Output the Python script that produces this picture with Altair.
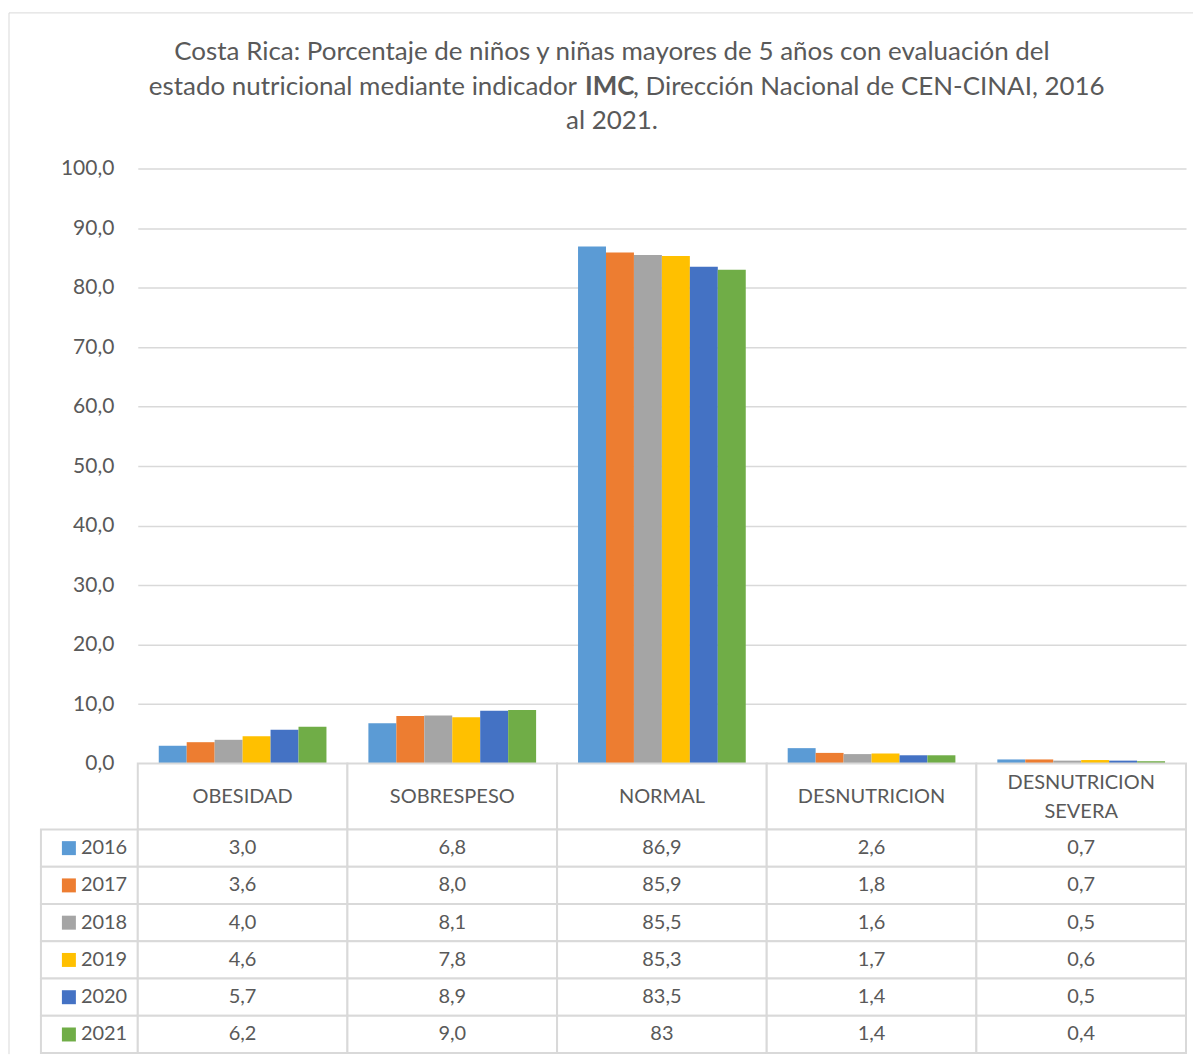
import altair as alt
import pandas as pd

categories = ["OBESIDAD", "SOBRESPESO", "NORMAL", "DESNUTRICION", "DESNUTRICION SEVERA"]
header_labels = ["OBESIDAD", "SOBRESPESO", "NORMAL", "DESNUTRICION", "DESNUTRICION\nSEVERA"]
years = ["2016", "2017", "2018", "2019", "2020", "2021"]
colors = ["#5B9BD5", "#ED7D31", "#A5A5A5", "#FFC000", "#4472C4", "#70AD47"]

v2016 = [3.0, 6.8, 86.9, 2.6, 0.7]
v2017 = [3.6, 8.0, 85.9, 1.8, 0.7]
v2018 = [4.0, 8.1, 85.5, 1.6, 0.5]
v2019 = [4.6, 7.8, 85.3, 1.7, 0.6]
v2020 = [5.7, 8.9, 83.5, 1.4, 0.5]
v2021 = [6.2, 9.0, 83, 1.4, 0.4]
series = [v2016, v2017, v2018, v2019, v2020, v2021]

title_line1 = "Costa Rica: Porcentaje de niños y niñas mayores de 5 años con evaluación del"
title_line2a = "estado nutricional mediante indicador"
title_line2b = "IMC"
title_line2c = ", Dirección Nacional de CEN-CINAI, 2016"
title_line3 = "al 2021."

FONT = "Lato"
TXT = "#595959"
GRID = "#d9d9d9"


def fmt(v):
    if isinstance(v, int):
        return str(v)
    return f"{v:.1f}".replace(".", ",")


rows = []
for y, vals in zip(years, series):
    for c, v in zip(categories, vals):
        rows.append({"category": c, "year": y, "value": float(v), "label": fmt(v)})
df = pd.DataFrame(rows)
header_df = pd.DataFrame({"category": categories, "label": header_labels})
years_df = pd.DataFrame({"year": years})
one = pd.DataFrame({"k": [0]})

W = 1050
H = 596

bars = alt.Chart(df).mark_bar().encode(
    x=alt.X("category:N", sort=categories, axis=None,
            scale=alt.Scale(paddingInner=0.2, paddingOuter=0.1)),
    xOffset=alt.XOffset("year:N", sort=years),
    y=alt.Y("value:Q", scale=alt.Scale(domain=[0, 100]),
            axis=alt.Axis(values=list(range(0, 101, 10)),
                          labelExpr="replace(format(datum.value, '.1f'), '.', ',')",
                          title=None, domain=False, ticks=False,
                          gridColor=GRID, gridWidth=1.5,
                          labelFontSize=21, labelColor=TXT, labelFont=FONT,
                          labelPadding=24)),
    color=alt.Color("year:N", sort=years,
                    scale=alt.Scale(domain=years, range=colors), legend=None),
)


def ttext(txt, x, y, align, bold=False):
    return alt.Chart(one).mark_text(
        text=txt, font=FONT, fontSize=26, color=TXT, align=align,
        baseline="alphabetic", fontWeight="bold" if bold else "normal",
    ).encode(x=alt.value(x), y=alt.value(y))


frame_top = alt.Chart(one).mark_rule(color=GRID, strokeWidth=1).encode(
    x=alt.value(-129), x2=alt.value(1057), y=alt.value(-156))
frame_left = alt.Chart(one).mark_rule(color=GRID, strokeWidth=1).encode(
    x=alt.value(-129), y=alt.value(-156), y2=alt.value(887))

top = alt.layer(
    frame_top, frame_left, bars,
    ttext(title_line1, 475, -109, "center"),
    ttext(title_line2a, 440, -74, "right"),
    ttext(title_line2b, 448, -74, "left", bold=True),
    ttext(title_line2c, 496, -74, "left"),
    ttext(title_line3, 475, -40, "center"),
).properties(width=W, height=H)

xcat = alt.X("category:N", sort=categories, axis=None, scale=alt.Scale(padding=0))

hbase = alt.Chart(header_df).encode(x=xcat)
header = alt.layer(
    hbase.mark_rect(fill="white", stroke=GRID, strokeWidth=2),
    hbase.mark_text(fontSize=20, color=TXT, font=FONT).encode(text="label:N")
    .transform_filter("indexof(datum.label, '\\n') < 0"),
    hbase.mark_text(fontSize=20, color=TXT, font=FONT, lineBreak="\n",
                    lineHeight=29, dy=-14).encode(text="label:N")
    .transform_filter("indexof(datum.label, '\\n') >= 0"),
).properties(width=W, height=66)

ycat = alt.Y("year:N", sort=years, axis=None, scale=alt.Scale(padding=0))
tbase = alt.Chart(df).encode(x=xcat, y=ycat)
lbase = alt.Chart(years_df).encode(y=ycat)
table = alt.layer(
    lbase.mark_rect(fill="white", stroke=GRID, strokeWidth=2).encode(
        x=alt.value(-97), x2=alt.value(0)),
    tbase.mark_rect(fill="white", stroke=GRID, strokeWidth=2),
    tbase.mark_text(fontSize=20, color=TXT, font=FONT).encode(text="label:N"),
    lbase.mark_square(size=196, opacity=1).encode(
        x=alt.value(-69),
        color=alt.Color("year:N", sort=years,
                        scale=alt.Scale(domain=years, range=colors), legend=None)),
    lbase.mark_text(fontSize=20, color=TXT, font=FONT, align="left").encode(
        x=alt.value(-57), text="year:N"),
).properties(width=W, height=224)

chart = alt.vconcat(
    top, header, table, spacing=0, bounds="flush",
).properties(
    padding={"left": 0, "top": 3, "right": 0, "bottom": 0},
).configure_view(strokeWidth=0)

chart.save("out.html", embed_options={"renderer": "svg", "actions": False})
